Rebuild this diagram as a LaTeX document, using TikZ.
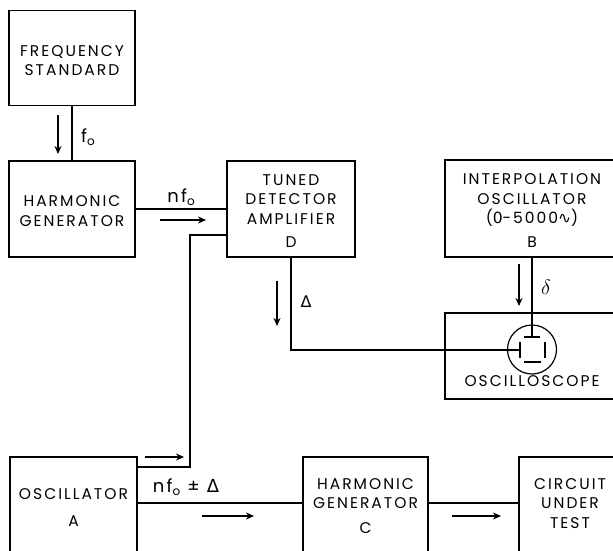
\documentclass[tikz,border=0pt]{standalone}
\usepackage{fontspec}
\setmainfont{Poppins}[LetterSpace=13]
\newfontfamily\symfont{DejaVu Sans}
\usetikzlibrary{arrows.meta}
\newcommand{\sbz}{\raisebox{-3pt}{\fontsize{12}{12}\selectfont o}}
\tikzset{
  blk/.style={draw, line width=1.2pt, rectangle, inner sep=0pt},
  txt/.style={inner sep=0pt, align=center, font=\fontsize{15.5}{19.5}\selectfont},
  wire/.style={line width=1.8pt},
  plate/.style={line width=1.3pt},
  flow/.style={line width=2.2pt, -{Stealth[length=8pt,width=7pt]}},
  lbl/.style={inner sep=0pt, font=\fontsize{18}{18}\selectfont},
}
\begin{document}
\begin{tikzpicture}[x=1pt,y=-1pt]
\useasboundingbox (0,0) rectangle (613,550);
\clip (0,0) rectangle (613,550);
\fill[white] (0,0) rectangle (613,550);
% boxes
\node[blk, minimum width=126pt, minimum height=95pt] (fs) at (72,58) {};
\node[txt] (fst) at (72,60.5) {FREQUENCY\\STANDARD};
\node[blk, minimum width=126pt, minimum height=96pt] (hg) at (72,209) {};
\node[txt] (hgt) at (72,211) {HARMONIC\\GENERATOR};
\node[blk, minimum width=128pt, minimum height=96pt] (tda) at (291,209) {};
\node[txt] (tdat) at (291,211) {TUNED\\DETECTOR\\AMPLIFIER\\[4pt]D};
\node[blk, minimum width=174pt, minimum height=97pt] (io) at (532,208.5) {};
\node[txt] (iot) at (532,210.5) {INTERPOLATION\\OSCILLATOR\\({\symfont 0}-5000{\symfont ∿})\\[4pt]B};
\node[blk, minimum width=174pt, minimum height=86pt] (scope) at (532,356) {};
\node[txt] (scl) at (532,381) {OSCILLOSCOPE};
\node[draw, circle, line width=1.2pt, minimum size=49pt, inner sep=0pt] (crt) at (532,349.5) {};
\node[blk, minimum width=127pt, minimum height=100pt] (a) at (73.5,507) {};
\node[txt] (at) at (73.5,507.5) {OSCILLATOR\\[8pt]A};
\node[blk, minimum width=125pt, minimum height=100pt] (hgc) at (365.5,507) {};
\node[txt] (hgct) at (365.5,506) {HARMONIC\\GENERATOR\\[5pt]C};
\node[blk, minimum width=102pt, minimum height=100pt] (cut) at (570,507) {};
\node[txt] (cutt) at (570,503.5) {CIRCUIT\\UNDER\\TEST};
% crt plates
\coordinate (tp) at (532,337);
\coordinate (lp) at (520,350);
\draw[plate] (524,337) -- (540,337);
\draw[plate] (524,362) -- (541,362);
\draw[plate] (520,342) -- (520,358);
\draw[plate] (545,342) -- (545,358);
% connectors
\coordinate (ln) at (0,503);
\coordinate (fb0) at (190,235);
\coordinate (fb) at (190,467);
\draw[wire] (fs.south) -- (hg.north);
\draw[wire] (hg.east) -- (tda.west);
\draw[wire] (fb0 -| tda.west) -- (fb0) -- (fb) -- (fb -| a.east);
\draw[wire] (tda.south) |- (lp);
\draw[wire] (io.south) -- (tp);
\draw[wire] (a.east |- ln) -- (hgc.west |- ln);
\draw[wire] (hgc.east |- ln) -- (cut.west |- ln);
% direction arrows
\draw[flow] (58,115) -- (58,154);
\draw[flow] (160,220) -- (206,220);
\draw[flow] (277,281) -- (277,326);
\draw[flow] (519,264) -- (519,306);
\draw[flow] (145,457) -- (184,457);
\draw[flow] (202,516) -- (254,516);
\draw[flow] (452,516) -- (501,516);
% labels
\node[lbl, anchor=west] (l1) at (81,137) {f\sbz};
\node[lbl] (l2) at (181,197) {nf\sbz};
\node[lbl] (l3) at (186,487) {nf\sbz\ ± {\symfont Δ}};
\node[lbl, font=\fontsize{16}{16}\selectfont] (l4) at (306,302) {{\symfont Δ}};
\node[lbl, font=\fontsize{20}{20}\selectfont] (l5) at (546,287) {$\delta$};
\end{tikzpicture}
\end{document}
